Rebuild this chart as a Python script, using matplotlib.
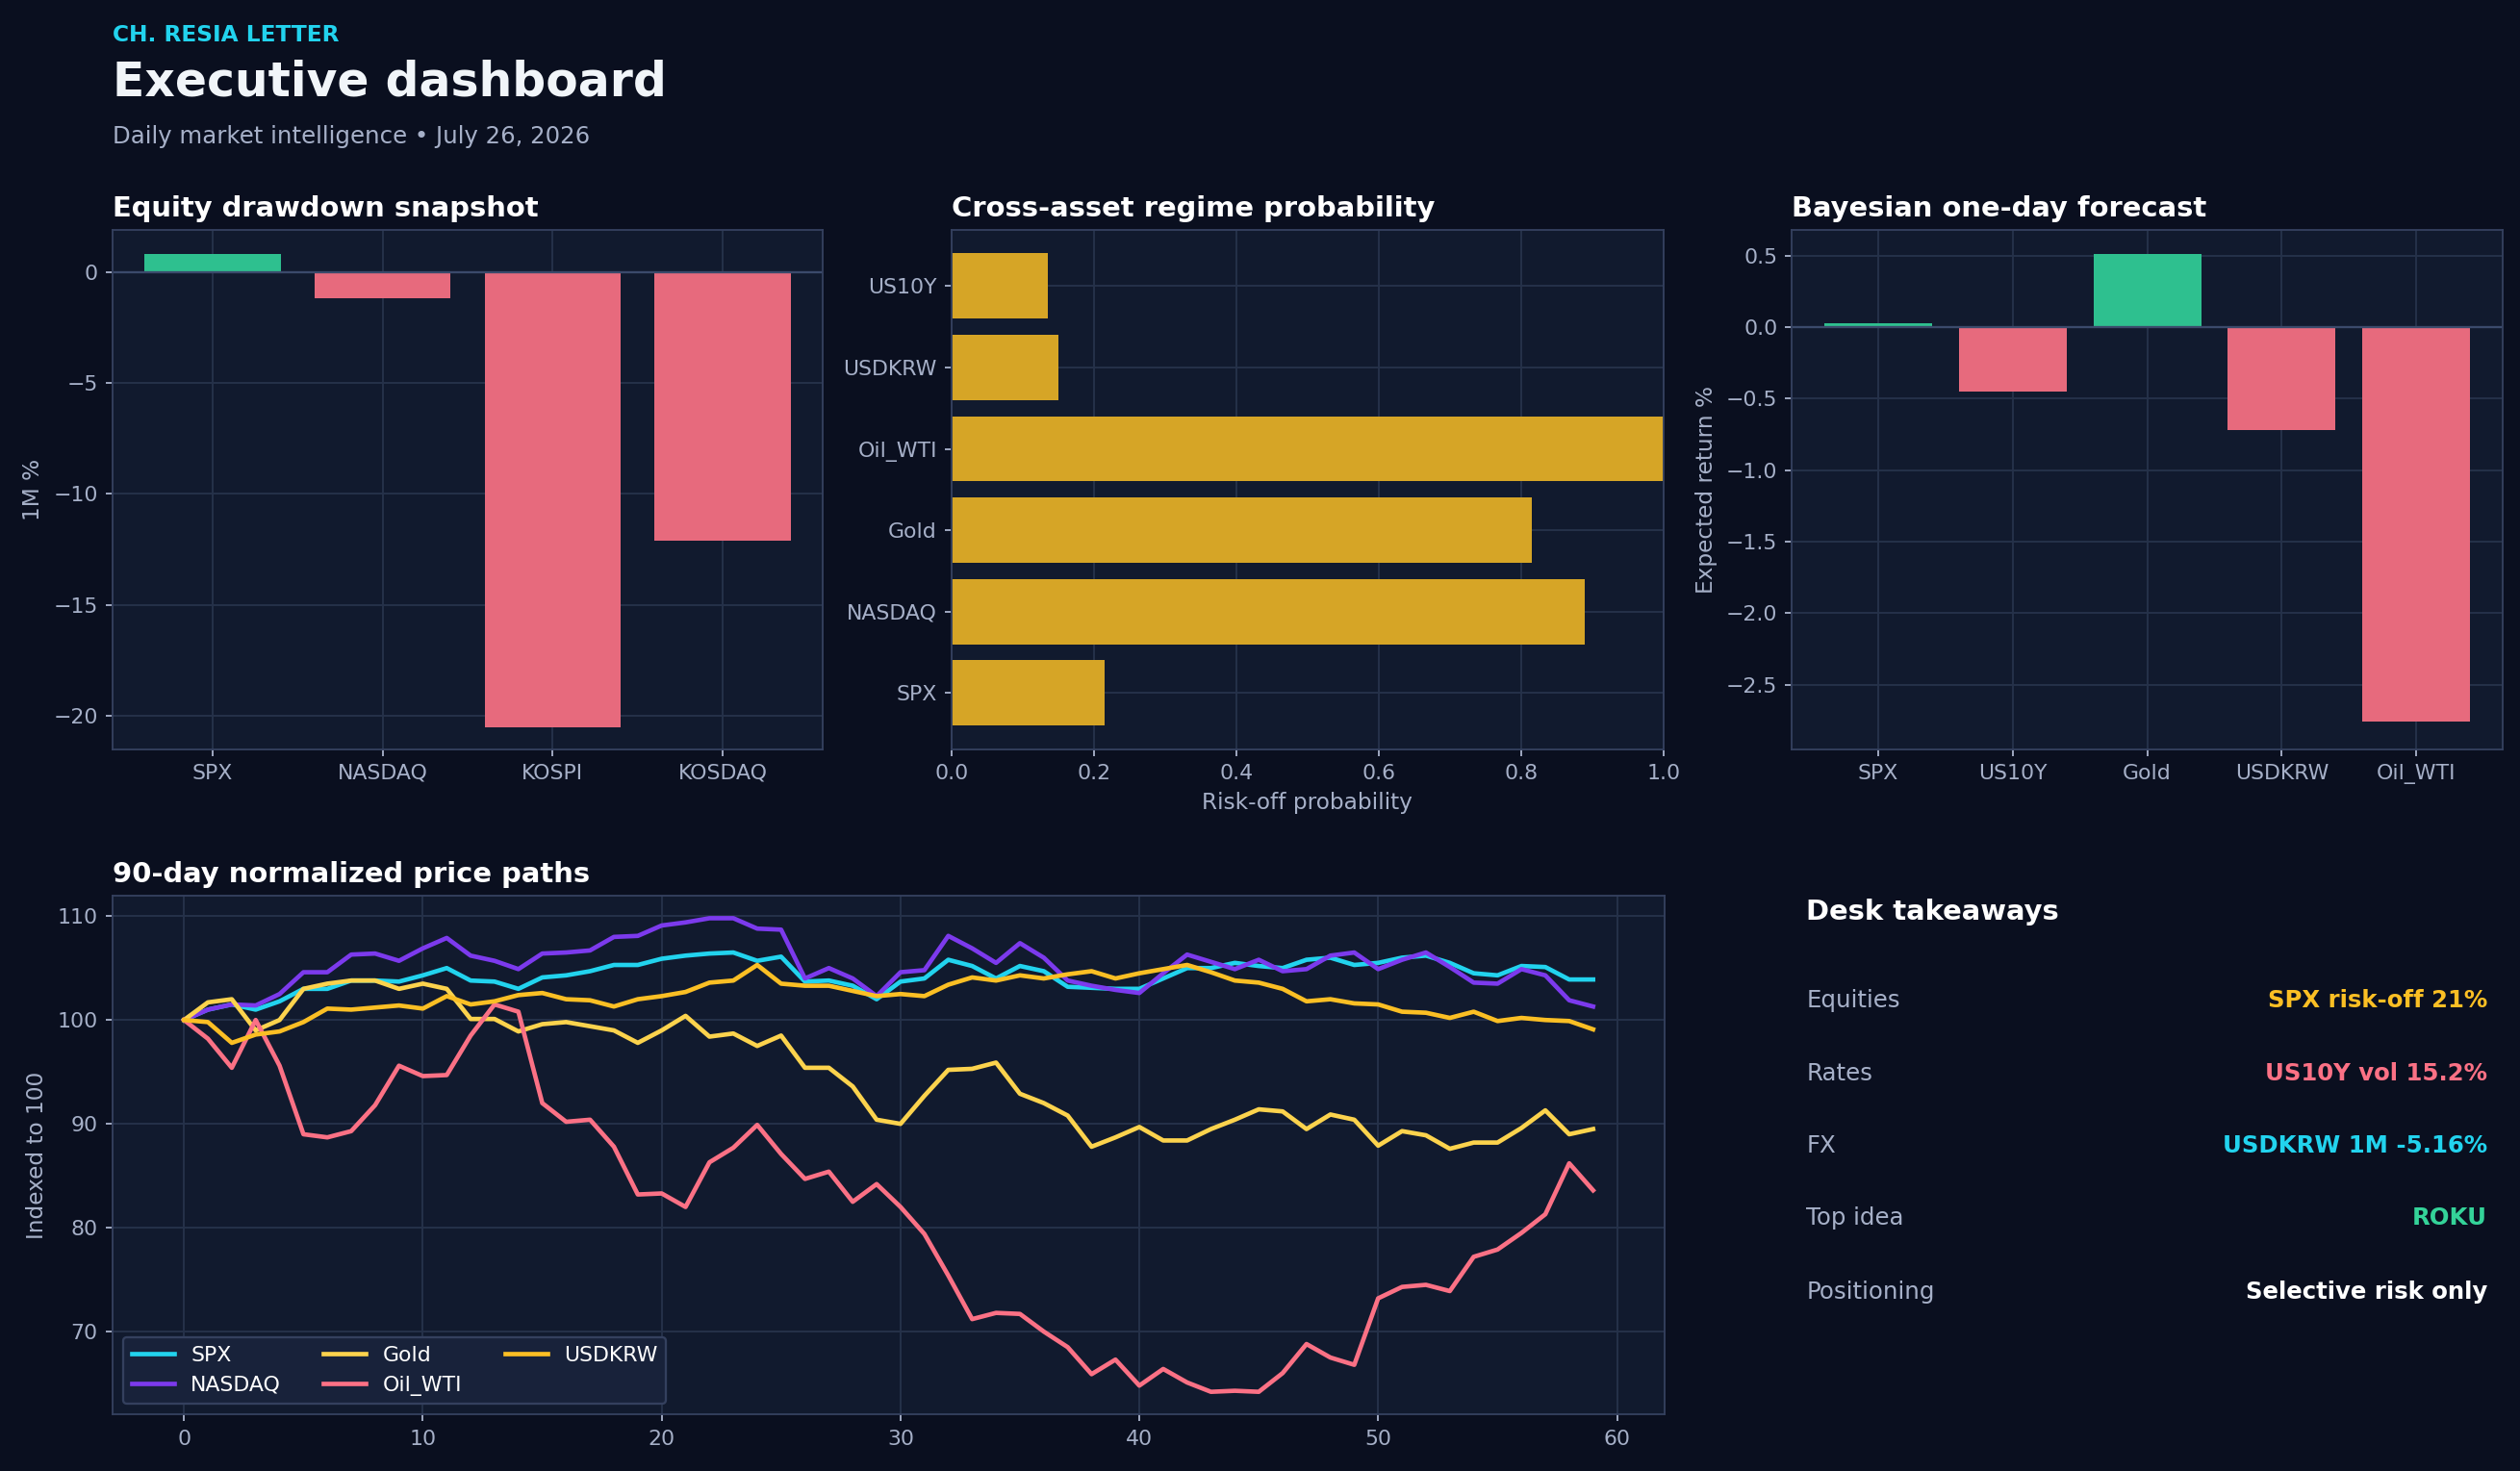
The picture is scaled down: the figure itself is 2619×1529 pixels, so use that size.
import matplotlib
matplotlib.use("Agg")
import matplotlib.pyplot as plt
import numpy as np

plt.rcParams['font.family'] = ['DejaVu Sans']

dd_names = ["SPX", "NASDAQ", "KOSPI", "KOSDAQ"]
dd_vals = [0.8, -1.2, -20.5, -12.1]

reg_names = ["SPX", "NASDAQ", "Gold", "Oil_WTI", "USDKRW", "US10Y"]
reg_vals = [0.215, 0.89, 0.815, 1.0, 0.15, 0.135]

fc_names = ["SPX", "US10Y", "Gold", "USDKRW", "Oil_WTI"]
fc_vals = [0.03, -0.45, 0.51, -0.72, -2.76]

spx = [100,101,101.5,101,101.8,103,103,103.8,103.8,103.7,104.3,105,103.8,103.7,103,104.1,104.3,104.7,105.3,105.3,105.9,106.2,106.4,106.5,105.7,106.1,103.7,103.8,103.3,102,103.7,104,105.8,105.2,104,105.2,104.7,103.2,103.1,103,103,104,105,105,105.5,105.2,105,105.8,106,105.3,105.5,106,106.2,105.5,104.5,104.3,105.2,105.1,103.9,103.9]
nasdaq = [100,101,101.5,101.4,102.5,104.6,104.6,106.3,106.4,105.7,106.9,107.9,106.2,105.7,104.9,106.4,106.5,106.7,108,108.1,109.1,109.4,109.8,109.8,108.8,108.7,104,105,104,102.3,104.6,104.8,108.1,106.9,105.5,107.4,106,103.8,103.3,102.9,102.6,104.5,106.3,105.6,104.9,105.8,104.7,104.9,106.2,106.5,104.9,105.8,106.5,105.1,103.6,103.5,104.9,104.3,101.9,101.3]
gold = [100,101.7,102,99,100,103,103.5,103.8,103.8,103,103.5,103,100.1,100.1,98.9,99.6,99.8,99.4,99,97.8,99,100.4,98.4,98.7,97.5,98.5,95.4,95.4,93.6,90.4,90,92.7,95.2,95.3,95.9,92.9,92,90.8,87.8,88.7,89.7,88.4,88.4,89.5,90.4,91.4,91.2,89.5,90.9,90.4,87.9,89.3,88.9,87.6,88.2,88.2,89.6,91.3,89,89.5]
oil = [100,98.2,95.4,100,95.6,89,88.7,89.3,91.8,95.6,94.6,94.7,98.5,101.5,100.8,92,90.2,90.4,87.8,83.2,83.3,82,86.3,87.7,89.9,87.1,84.7,85.4,82.5,84.2,82,79.4,75.4,71.2,71.8,71.7,70,68.5,65.9,67.3,64.8,66.4,65.1,64.2,64.3,64.2,66,68.8,67.5,66.8,73.2,74.3,74.5,73.9,77.2,77.9,79.5,81.3,86.2,83.6]
usdkrw = [100,99.8,97.8,98.6,98.9,99.8,101.1,101,101.2,101.4,101.1,102.3,101.5,101.8,102.4,102.6,102,101.9,101.3,102,102.3,102.7,103.6,103.8,105.3,103.5,103.3,103.3,102.8,102.3,102.5,102.3,103.4,104.1,103.8,104.3,104,104.4,104.7,104,104.5,104.9,105.3,104.6,103.8,103.6,103,101.8,102,101.6,101.5,100.8,100.7,100.2,100.8,99.9,100.2,100,99.9,99.1]

take_labels = ["Equities", "Rates", "FX", "Top idea", "Positioning"]
take_values = ["SPX risk-off 21%", "US10Y vol 15.2%", "USDKRW 1M -5.16%", "ROKU", "Selective risk only"]
take_colors = ["#fbbf24", "#fb7185", "#22d3ee", "#34d399", "#ffffff"]

BG = "#0a0f1f"; AX = "#111a2e"; SP = "#34405e"; TK = "#a6b0c8"; GR = "#26324a"
GREEN = "#2ec08f"; RED = "#e76a7d"; GOLDB = "#d6a526"

fig = plt.figure(figsize=(15.683, 9.156), dpi=167)
fig.patch.set_facecolor(BG)

def style(ax):
    ax.set_facecolor(AX)
    for s in ax.spines.values():
        s.set_color(SP)
    ax.tick_params(colors=TK, labelsize=9.5, length=3)
    ax.grid(True, color=GR, linewidth=0.8)
    ax.set_axisbelow(True)

fig.text(0.0446, 0.976, "CH. RESIA LETTER", color="#22d3ee", fontsize=10, fontweight="bold", va="center")
fig.text(0.0446, 0.944, "Executive dashboard", color="#f1f5f9", fontsize=21, fontweight="bold", va="center")
fig.text(0.0446, 0.907, "Daily market intelligence • July 26, 2026", color=TK, fontsize=10.5, va="center")

ax1 = fig.add_axes([0.0446, 0.4907, 0.2819, 0.353])
style(ax1)
ax1.bar(dd_names, dd_vals, color=[GREEN if v >= 0 else RED for v in dd_vals], width=0.8)
ax1.axhline(0, color="#3b4a6b", linewidth=1)
ax1.set_ylim(-21.5, 1.9)
ax1.set_ylabel("1M %", color=TK, fontsize=10)
ax1.set_title("Equity drawdown snapshot", color="white", fontsize=12.5, fontweight="bold", loc="left")

ax2 = fig.add_axes([0.3776, 0.4907, 0.2825, 0.353])
style(ax2)
ax2.barh(reg_names, reg_vals, color=GOLDB, height=0.8)
ax2.set_xlim(0, 1)
ax2.set_xlabel("Risk-off probability", color=TK, fontsize=10)
ax2.set_title("Cross-asset regime probability", color="white", fontsize=12.5, fontweight="bold", loc="left")

ax3 = fig.add_axes([0.7111, 0.4907, 0.2819, 0.353])
style(ax3)
ax3.bar(fc_names, fc_vals, color=[GREEN if v >= 0 else RED for v in fc_vals], width=0.8)
ax3.axhline(0, color="#3b4a6b", linewidth=1)
ax3.set_ylim(-2.95, 0.68)
ax3.set_ylabel("Expected return %", color=TK, fontsize=10)
ax3.set_title("Bayesian one-day forecast", color="white", fontsize=12.5, fontweight="bold", loc="left")

ax4 = fig.add_axes([0.0446, 0.0383, 0.616, 0.353])
style(ax4)
series = [("SPX", spx, "#22d3ee"), ("NASDAQ", nasdaq, "#7c3aed"), ("Gold", gold, "#fcd34d"),
          ("Oil_WTI", oil, "#fb7185"), ("USDKRW", usdkrw, "#fbbf24")]
for name, vals, c in series:
    ax4.plot(np.arange(len(vals)), vals, color=c, linewidth=2, label=name)
ax4.set_xlim(-3, 62)
ax4.set_ylim(62, 112)
ax4.set_ylabel("Indexed to 100", color=TK, fontsize=10)
ax4.set_title("90-day normalized price paths", color="white", fontsize=12.5, fontweight="bold", loc="left")
leg = ax4.legend(ncol=3, loc="lower left", fontsize=9.5, facecolor="#18223a", edgecolor=SP, labelcolor="white", framealpha=1)

fig.text(0.7168, 0.380, "Desk takeaways", color="white", fontsize=12.5, fontweight="bold", va="center")
ys = [0.320, 0.270, 0.221, 0.172, 0.122]
for y, l, v, c in zip(ys, take_labels, take_values, take_colors):
    fig.text(0.7168, y, l, color=TK, fontsize=10.5, va="center")
    fig.text(0.987, y, v, color=c, fontsize=10.5, fontweight="bold", va="center", ha="right")

fig.savefig("out.png", dpi=167, facecolor=BG)
